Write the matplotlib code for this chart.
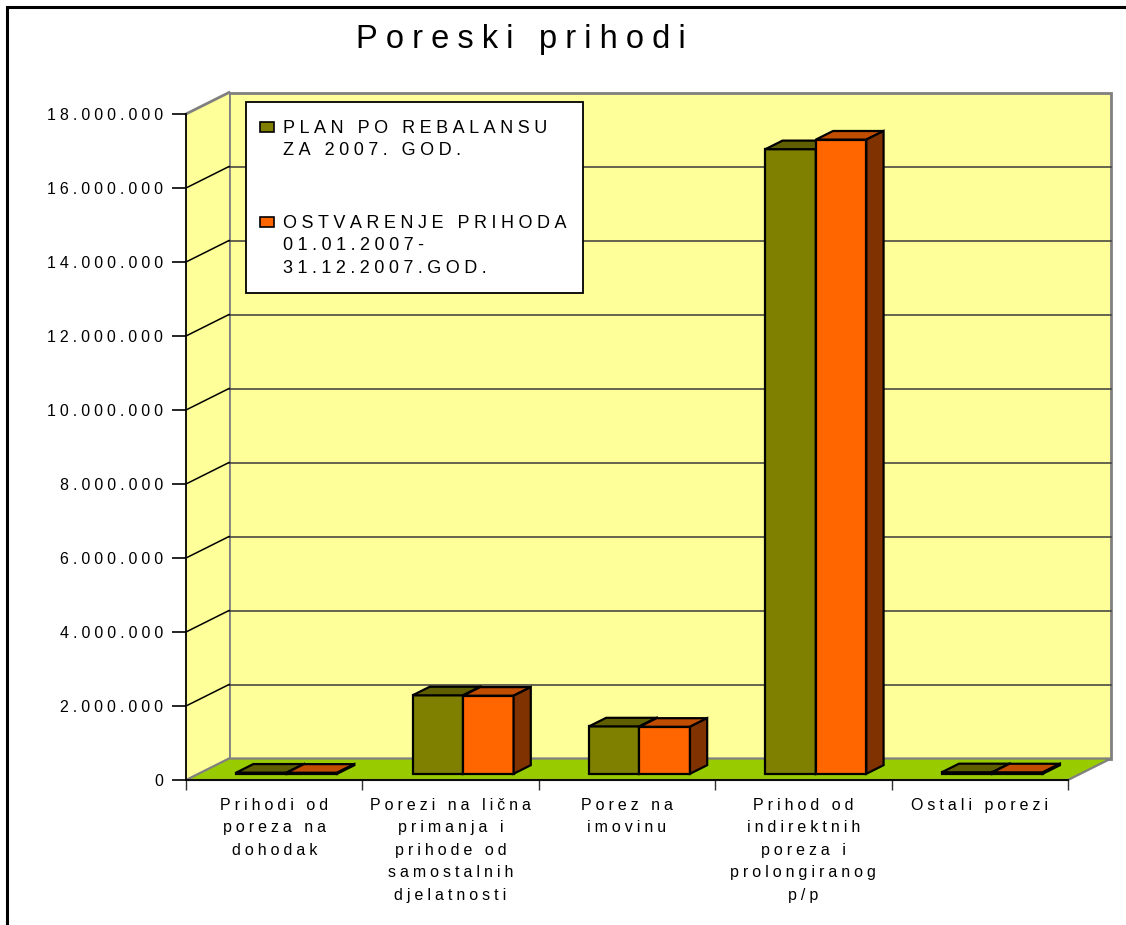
import numpy as np
import matplotlib.pyplot as plt
from matplotlib.patches import Polygon, Rectangle

plt.rcParams['font.family'] = ['Liberation Sans', 'DejaVu Sans']

# podaci
categories = ["Prihodi od\nporeza na\ndohodak",
              "Porezi na lična\nprimanja i\nprihode od\nsamostalnih\ndjelatnosti",
              "Porez na\nimovinu",
              "Prihod od\nindirektnih\nporeza i\nprolongiranog\np/p",
              "Ostali porezi"]
series_names = ["PLAN PO REBALANSU\nZA 2007. GOD.",
                "OSTVARENJE PRIHODA\n01.01.2007-\n31.12.2007.GOD."]
plan = [30000, 2120000, 1280000, 16880000, 40000]
ostvarenje = [28000, 2110000, 1270000, 17140000, 38000]
yticks = np.arange(0, 18000001, 2000000)

# boje: prednja, gornja, bocna strana
colors = [('#808000', '#5F5F00', '#404000'),
          ('#FF6600', '#C04D00', '#803300')]

W, H = 1126, 925
N = len(categories)
YMAX = 18000000
DX = 0.2438      # dubina u kategorijama
DY = 581000      # dubina u vrijednostima
F0, F1 = 0.29, 0.69
BW = 0.2863


def proj(x, y, d):
    return (x + d * DX, y + d * DY)


def track(s):
    # razmak izmedju slova kao u Excelu
    return '\n'.join('\u2005'.join(line) for line in s.split('\n'))


fig = plt.figure(figsize=(W / 100, H / 100), dpi=100)
ax = fig.add_axes([186 / W, 1 - 780 / H, 882 / W, 666 / H])
ax.set_xlim(0, N)
ax.set_ylim(0, YMAX)
ax.patch.set_visible(False)
for s in ['top', 'right']:
    ax.spines[s].set_visible(False)
for s in ['left', 'bottom']:
    ax.spines[s].set_linewidth(1.3)
    ax.spines[s].set_zorder(4)

# zidovi i pod
back = Polygon([proj(0, 0, 1), proj(N, 0, 1), proj(N, YMAX, 1), proj(0, YMAX, 1)],
               fc='#FFFF99', ec='#808080', lw=2, clip_on=False, zorder=0.5)
side = Polygon([(0, 0), proj(0, 0, 1), proj(0, YMAX, 1), (0, YMAX)],
               fc='#FFFF99', ec='none', clip_on=False, zorder=0.5)
floor = Polygon([(0, 0), (N, 0), proj(N, 0, 1), proj(0, 0, 1)],
                fc='#99CC00', ec='#808080', lw=1.6, clip_on=False, zorder=0.8)
ax.add_patch(back)
ax.add_patch(side)
ax.add_patch(floor)
ax.plot([0, DX], [YMAX, YMAX + DY], color='#808080', lw=2, clip_on=False, zorder=0.6)
for v in yticks[1:-1]:
    ax.plot([DX, N + DX], [v + DY, v + DY], color='#3a3a3a', lw=1.1, clip_on=False, zorder=0.6)
    ax.plot([0, DX], [v, v + DY], color='black', lw=1.1, clip_on=False, zorder=0.6)

# stubci
for i in range(N):
    for s, vals in enumerate([plan, ostvarenje]):
        x0 = i + 0.5 - BW + s * BW
        x1 = x0 + BW
        v = vals[i]
        front, top, sidec = colors[s]
        faces = [
            ([proj(x0, 0, F0), proj(x1, 0, F0), proj(x1, v, F0), proj(x0, v, F0)], front),
            ([proj(x0, v, F0), proj(x1, v, F0), proj(x1, v, F1), proj(x0, v, F1)], top),
            ([proj(x1, 0, F0), proj(x1, 0, F1), proj(x1, v, F1), proj(x1, v, F0)], sidec),
        ]
        for pts, c in faces:
            ax.add_patch(Polygon(pts, fc=c, ec='black', lw=1.6, joinstyle='miter',
                                 clip_on=False, zorder=2))

# osovine
ax.set_yticks(yticks)
ax.set_yticklabels([track(f"{v:,}".replace(",", ".")) for v in yticks])
ax.tick_params(axis='y', length=10, width=1.2, pad=6.5, labelsize=11.5)
ax.set_xticks(np.arange(N + 1))
ax.set_xticklabels([])
ax.set_xticks(np.arange(N) + 0.5, minor=True)
ax.set_xticklabels([track(c) for c in categories], minor=True)
ax.tick_params(axis='x', which='major', length=7.5, width=1, color='#303030')
ax.tick_params(axis='x', which='minor', length=0, pad=13, labelsize=11.5)
for t in ax.get_xticklabels(minor=True):
    t.set_linespacing(1.62)

fig.text(521 / W, 1 - 48 / H, track("Poreski prihodi"), fontsize=23.5,
         ha='center', va='baseline')

# okvir
fig.add_artist(Rectangle((7 / W, -0.1), 1.2, 1 - 7 / H + 0.1, transform=fig.transFigure,
                         fill=False, ec='black', lw=2.2))

# legenda
fig.add_artist(Rectangle((246 / W, 1 - 293 / H), 337 / W, 191 / H, transform=fig.transFigure,
                         fc='white', ec='black', lw=1.3, zorder=5))
for s, (name, y0) in enumerate(zip(series_names, [122, 217])):
    fig.add_artist(Rectangle((260 / W, 1 - (y0 + 10) / H), 14 / W, 10 / H,
                             transform=fig.transFigure, fc=colors[s][0], ec='black',
                             lw=1.2, zorder=6))
    fig.text(283 / W, 1 - (y0 - 2) / H, track(name), fontsize=13, ha='left', va='top',
             linespacing=1.42, zorder=6)

fig.savefig('out.png', dpi=100)
